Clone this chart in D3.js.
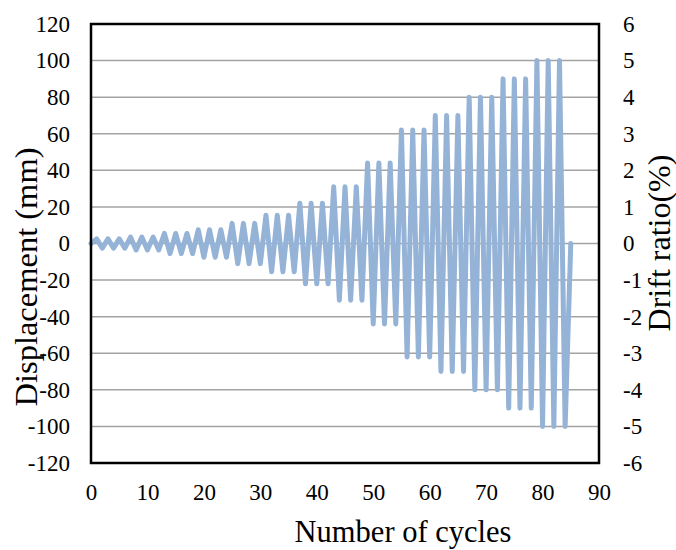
<!DOCTYPE html>
<html>
<head>
<meta charset="utf-8">
<script src="https://cdn.jsdelivr.net/npm/d3@7"></script>
<style>
    body { margin: 0; background: #fff; }
    text { font-family: "Liberation Serif", "Times New Roman", serif; fill: #000; }
</style>
</head>
<body>
<svg></svg>
<script>
// cycle number (x) and displacement in mm (y)
let cycles = [0, 1, 2, 3, 4, 5, 6, 7, 8, 9, 10, 11, 12, 13, 14, 15, 16, 17, 18, 19,
    20, 21, 22, 23, 24, 25, 26, 27, 28, 29, 30, 31, 32, 33, 34, 35, 36, 37, 38, 39,
    40, 41, 42, 43, 44, 45, 46, 47, 48, 49, 50, 51, 52, 53, 54, 55, 56, 57, 58, 59,
    60, 61, 62, 63, 64, 65, 66, 67, 68, 69, 70, 71, 72, 73, 74, 75, 76, 77, 78, 79,
    80, 81, 82, 83, 84, 85]

let displacement = [0,
    2.5, -2.5, 2.5, -2.5, 2.5, -2.5,
    3.5, -3.5, 3.5, -3.5, 3.5, -3.5,
    5.5, -5.5, 5.5, -5.5, 5.5, -5.5,
    7.5, -7.5, 7.5, -7.5, 7.5, -7.5,
    11, -11, 11, -11, 11, -11,
    15.5, -15.5, 15.5, -15.5, 15.5, -15.5,
    22, -22, 22, -22, 22, -22,
    31, -31, 31, -31, 31, -31,
    44, -44, 44, -44, 44, -44,
    62, -62, 62, -62, 62, -62,
    70, -70, 70, -70, 70, -70,
    80, -80, 80, -80, 80, -80,
    90, -90, 90, -90, 90, -90,
    100, -100, 100, -100, 100, -100,
    0]

let xTicks = [0, 10, 20, 30, 40, 50, 60, 70, 80, 90]
let yTicks = [-120, -100, -80, -60, -40, -20, 0, 20, 40, 60, 80, 100, 120]
let driftTicks = [-6, -5, -4, -3, -2, -1, 0, 1, 2, 3, 4, 5, 6]

let width = 676
let height = 550
let plotLeft = 91, plotRight = 599, plotTop = 24, plotBottom = 463

let svg = d3.select("svg")
    .attr("width", width)
    .attr("height", height)

let xScale = d3.scaleLinear().domain([0, 90]).range([plotLeft, plotRight])
let yScale = d3.scaleLinear().domain([-120, 120]).range([plotBottom, plotTop])
let driftScale = d3.scaleLinear().domain([-6, 6]).range([plotBottom, plotTop])

// horizontal grid lines
svg.append("g")
    .selectAll("line")
    .data(yTicks.filter(d => d > -120 && d < 120))
    .enter()
    .append("line")
    .attr("x1", plotLeft)
    .attr("x2", plotRight)
    .attr("y1", d => yScale(d))
    .attr("y2", d => yScale(d))
    .attr("stroke", "#a3a3a3")
    .attr("stroke-width", 1.5)

// the displacement history
let line = d3.line()
    .x((d, i) => xScale(cycles[i]))
    .y(d => yScale(d))

svg.append("path")
    .datum(displacement)
    .attr("d", line)
    .attr("fill", "none")
    .attr("stroke", "#95b3d7")
    .attr("stroke-width", 5)
    .attr("stroke-linejoin", "round")
    .attr("stroke-linecap", "round")

// frame
svg.append("rect")
    .attr("x", plotLeft)
    .attr("y", plotTop)
    .attr("width", plotRight - plotLeft)
    .attr("height", plotBottom - plotTop)
    .attr("fill", "none")
    .attr("stroke", "#000")
    .attr("stroke-width", 2.5)

// axes (labels only, no tick marks), plain hyphen for negatives
let plain = d => String(d)

let yAxis = d3.axisLeft(yScale).tickValues(yTicks).tickFormat(plain).tickSize(0).tickPadding(21)
svg.append("g")
    .attr("transform", "translate(" + plotLeft + ",0)")
    .call(yAxis)

let driftAxis = d3.axisRight(driftScale).tickValues(driftTicks).tickFormat(plain).tickSize(0).tickPadding(24)
svg.append("g")
    .attr("transform", "translate(" + plotRight + ",0)")
    .call(driftAxis)

let xAxis = d3.axisBottom(xScale).tickValues(xTicks).tickFormat(plain).tickSize(0).tickPadding(21)
svg.append("g")
    .attr("transform", "translate(0," + plotBottom + ")")
    .call(xAxis)

svg.selectAll(".domain").remove()
svg.selectAll(".tick text")
    .attr("font-family", "Liberation Serif")
    .attr("font-size", 23)
    .attr("fill", "#000")

// axis titles
svg.append("text")
    .attr("x", 403)
    .attr("y", 542)
    .attr("text-anchor", "middle")
    .attr("font-size", 30.5)
    .text("Number of cycles")

svg.append("text")
    .attr("transform", "translate(37,277) rotate(-90)")
    .attr("text-anchor", "middle")
    .attr("font-size", 32.5)
    .text("Displacement (mm)")

svg.append("text")
    .attr("transform", "translate(670,243) rotate(-90)")
    .attr("text-anchor", "middle")
    .attr("font-size", 32)
    .text("Drift ratio(%)")
</script>
</body>
</html>
